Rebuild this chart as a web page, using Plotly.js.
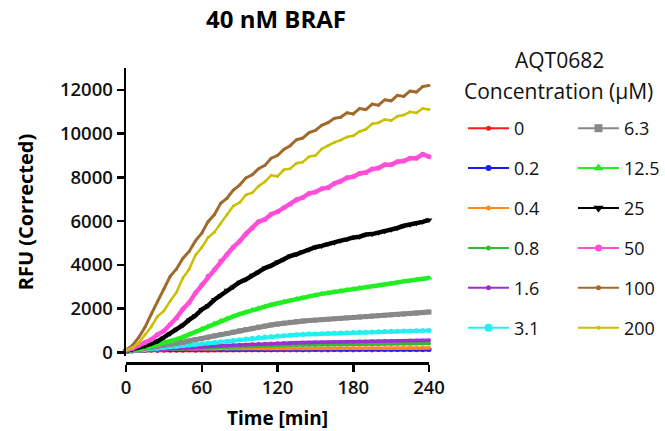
<!DOCTYPE html>
<html>
<head>
<meta charset="utf-8">
<script src="https://cdn.plot.ly/plotly-3.0.1.min.js"></script>
<style>html,body{margin:0;padding:0;background:#fff;}#chart{width:665px;height:431px;}</style>
</head>
<body>
<div id="chart"></div>
<script>
// Time axis (minutes)
const time = [0,5,10,15,20,25,30,35,40,45,50,55,60,65,70,75,80,85,90,95,100,105,110,115,120,125,130,135,140,145,150,155,160,165,170,175,180,185,190,195,200,205,210,215,220,225,230,235,240];

// Series labels (AQT0682 concentration, µM)
const concLabels = ["0","0.2","0.4","0.8","1.6","3.1","6.3","12.5","25","50","100","200"];

// RFU (corrected) per concentration
const rfu_0    = [60,70,75,70,80,75,85,80,85,80,90,85,90,85,90,88,92,86,90,92,88,94,90,92,95,90,94,96,92,95,98,94,96,98,95,99,96,100,98,97,100,98,101,99,100,102,99,101,100];
const rfu_0_2  = [80,110,120,115,125,120,130,125,130,128,135,130,135,132,138,135,140,136,140,142,138,143,140,142,145,140,144,146,142,145,148,144,146,148,145,149,146,150,148,147,150,148,151,149,150,152,149,151,150];
const rfu_0_4  = [100,210,190,175,170,172,168,175,170,172,175,170,178,174,176,180,176,182,178,180,184,180,186,182,185,188,184,190,186,188,192,188,190,194,190,195,192,196,194,196,198,195,200,197,200,202,199,203,205];
const rfu_0_8  = [30,50,70,90,105,120,135,150,165,178,190,202,214,225,236,247,258,268,278,287,296,304,312,319,326,332,338,343,348,353,357,361,365,369,373,377,380,383,386,389,392,395,398,400,402,404,406,408,410];
const rfu_1_6  = [40,60,80,100,120,140,160,180,200,215,230,245,260,275,290,305,320,335,350,365,380,395,405,415,425,432,440,446,452,458,464,468,472,478,484,490,496,502,508,514,520,525,530,535,540,544,548,552,556];
const rfu_3_1  = [50,80,110,140,170,200,230,260,290,310,340,370,400,430,460,490,520,550,580,620,650,680,710,730,750,770,790,810,820,840,850,860,870,880,890,900,910,920,930,940,950,960,970,975,980,985,990,995,1000];
const rfu_6_3  = [60,100,140,180,220,270,320,370,420,470,530,590,640,700,760,820,870,930,990,1050,1100,1160,1210,1260,1300,1340,1380,1410,1440,1460,1480,1500,1520,1540,1560,1580,1600,1620,1640,1660,1680,1700,1720,1740,1760,1780,1800,1820,1850];
const rfu_12_5 = [80,120,170,230,300,370,430,500,600,700,820,950,1080,1200,1330,1450,1550,1650,1750,1850,1950,2020,2100,2180,2250,2320,2380,2450,2500,2560,2620,2680,2720,2770,2820,2870,2900,2950,2980,3020,3050,3100,3150,3200,3250,3280,3320,3360,3400];
const rfu_25   = [80,140,240,300,410,520,690,860,1060,1250,1490,1690,1960,2140,2410,2610,2840,2990,3210,3340,3530,3670,3860,3970,4130,4250,4410,4490,4610,4690,4810,4870,4960,5010,5110,5170,5260,5290,5390,5410,5470,5540,5610,5690,5790,5840,5910,5970,6060];
const rfu_50   = [100,180,320,460,590,820,980,1280,1580,1980,2280,2720,3080,3480,3780,4180,4480,4820,5080,5420,5680,5980,6080,6320,6430,6620,6780,6980,7080,7270,7330,7480,7530,7720,7830,7980,8030,8180,8230,8380,8430,8580,8580,8720,8750,8880,8880,9060,8950];
const rfu_100  = [100,320,680,1150,1750,2350,2900,3480,3820,4300,4620,5100,5450,5980,6300,6820,7050,7420,7650,7980,8120,8400,8550,8880,9000,9280,9450,9720,9800,10050,10150,10380,10500,10700,10750,10950,10900,11150,11100,11350,11300,11550,11500,11750,11700,11950,11900,12150,12200];
const rfu_200  = [100,220,430,820,1180,1650,1900,2350,2750,3400,3800,4450,4800,5250,5500,5900,6300,6700,6850,7200,7300,7600,7800,8100,8050,8350,8400,8650,8700,8950,9000,9300,9450,9600,9700,9850,9900,10100,10200,10450,10500,10650,10600,10800,10850,11000,10950,11150,11100];

const seriesValues = [rfu_0,rfu_0_2,rfu_0_4,rfu_0_8,rfu_1_6,rfu_3_1,rfu_6_3,rfu_12_5,rfu_25,rfu_50,rfu_100,rfu_200];

const yTicks = [0,2000,4000,6000,8000,10000,12000];
const xTicks = [0,60,120,180,240];

// styles
const colors  = ["#ff1a1a","#1a1aff","#ff8a1a","#33bb33","#9b30d0","#22f0f0","#888888","#22ee22","#000000","#ff4fd8","#a06a2c","#c8c000"];
const symbols = ["circle","circle","circle","circle","circle","circle","square","triangle-up","triangle-down","circle","circle","circle"];
const msizes  = [4,5,4,4,4,5,5,6,6,5,3,3];
const lwidths = [3,3,3.5,3.5,3.5,4,5,4.5,4.5,4.5,3,2.5];
const legMsizes = [5,6,5,5,5,8,8,9,9,7,5,4];

// data traces (no legend entries)
const dataTraces = concLabels.map((lab,i)=>({
  type:'scatter', mode:'lines+markers', name:lab,
  x: time, y: seriesValues[i],
  line:{color:colors[i], width:lwidths[i]},
  marker:{color:colors[i], symbol:symbols[i], size:msizes[i]},
  showlegend:false, legendgroup:'g'+i,
  cliponaxis:false
}));

// legend-only entries (thin line + marker, as in the reference key)
const legendTraces = concLabels.map((lab,i)=>({
  type:'scatter', mode:'lines+markers', name:lab,
  x:[null], y:[null],
  line:{color:colors[i], width:2},
  marker:{color:colors[i], symbol:symbols[i], size:legMsizes[i]},
  legend: i<6 ? 'legend' : 'legend2',
  legendgroup:'g'+i, showlegend:true
}));

const tickFont = {family:'"Open Sans", sans-serif', size:18.5, color:'#111', weight:600};
const legFont = {family:'"Open Sans", sans-serif', size:18, color:'#111'};
const legTitleFont = {family:'"Open Sans", sans-serif', size:21, color:'#111'};

const legendBase = {
  xref:'container', yref:'container', xanchor:'left', yanchor:'top',
  font:legFont, bgcolor:'rgba(0,0,0,0)', borderwidth:0,
  traceorder:'grouped', tracegroupgap:13.5, itemwidth:41, maxheight:320
};

const PL = 126, PT = 68, PW = 303, PH = 295;
const px = v => (v-PL)/PW;
const py = v => (PT+PH-v)/PH;

const layout = {
  width:665, height:431,
  margin:{l:PL, r:665-PL-PW, t:PT, b:431-PT-PH},
  paper_bgcolor:'#fff', plot_bgcolor:'#fff',
  title:{text:'40 nM BRAF', font:{family:'"Open Sans", sans-serif', size:24, color:'#000', weight:700},
         xref:'container', yref:'container', x:276/665, y:1-20/431, xanchor:'center', yanchor:'middle'},
  xaxis:{range:[0,240], tickvals:xTicks, ticktext:xTicks.map(String),
         anchor:'free', position:0, showline:true, linecolor:'#000', linewidth:2.5,
         ticks:'outside', ticklen:7, tickwidth:2.5, tickcolor:'#000',
         showgrid:false, zeroline:false, tickfont:tickFont,
         title:{text:'Time [min]', font:{family:'"Open Sans", sans-serif', size:19, color:'#000', weight:700}, standoff:14}},
  yaxis:{range:[-160,13000], domain:[0.0237,1], tickvals:yTicks, ticktext:yTicks.map(String),
         showline:true, linecolor:'#000', linewidth:2.5,
         ticks:'outside', ticklen:7, tickwidth:2.5, tickcolor:'#000',
         showgrid:false, zeroline:false, tickfont:tickFont,
         title:{text:'RFU (Corrected)', font:{family:'"Open Sans", sans-serif', size:20, color:'#000', weight:700}, standoff:21}},
  showlegend:true,
  legend:Object.assign({}, legendBase, {x:463/665, y:1-110/431}),
  legend2:Object.assign({}, legendBase, {x:573/665, y:1-110/431}),
  annotations:[
    {text:'AQT0682', xref:'paper', yref:'paper', x:px(559), y:py(60), xanchor:'center', yanchor:'middle', showarrow:false, font:legTitleFont},
    {text:'Concentration (µM)', xref:'paper', yref:'paper', x:px(558), y:py(91), xanchor:'center', yanchor:'middle', showarrow:false, font:legTitleFont}
  ]
};

Plotly.newPlot('chart', dataTraces.concat(legendTraces), layout, {displayModeBar:false, staticPlot:true});
</script>
</body>
</html>
